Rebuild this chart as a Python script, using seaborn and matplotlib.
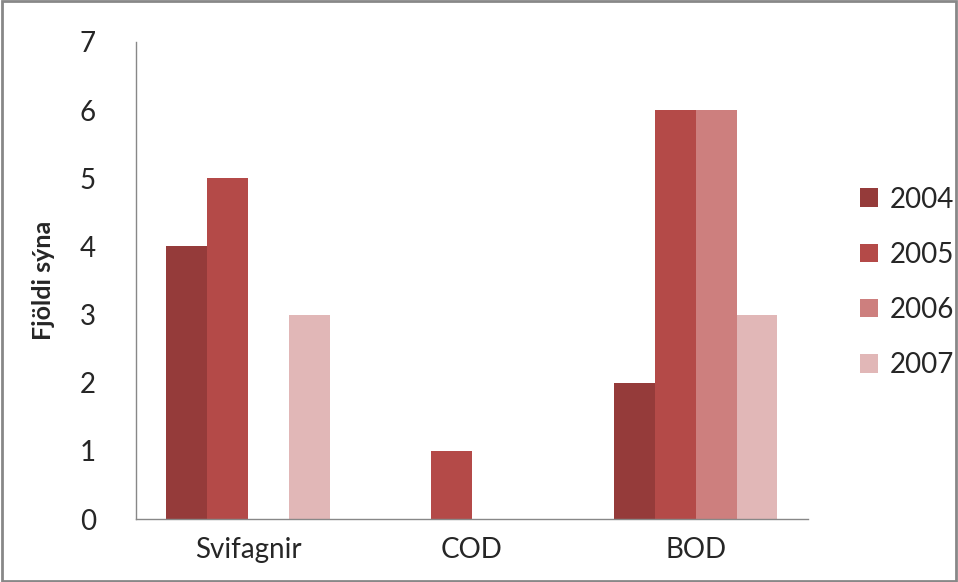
import matplotlib
matplotlib.use("Agg")
import matplotlib.pyplot as plt
import seaborn as sns
import pandas as pd
from matplotlib.patches import Patch, Rectangle

categories = ["Svifagnir", "COD", "BOD"]
years = ["2004", "2005", "2006", "2007"]
v2004 = [4, 0, 2]
v2005 = [5, 1, 6]
v2006 = [0, 0, 6]
v2007 = [3, 0, 3]
colors = ["#953B3A", "#B44A48", "#CD7F7E", "#E1B7B7"]

rows = []
for y, vals in zip(years, [v2004, v2005, v2006, v2007]):
    for c, v in zip(categories, vals):
        rows.append({"cat": c, "year": y, "val": v})
df = pd.DataFrame(rows)

sns.set_style("white")
plt.rcParams['font.family'] = ['Lato', 'DejaVu Sans']

fig = plt.figure(figsize=(9.58, 5.82), dpi=100)
ax = fig.add_axes([0.142, 0.108, 0.701, 0.820])
sns.barplot(data=df, x="cat", y="val", hue="year", palette=colors,
            width=0.73, gap=0, saturation=1, linewidth=0, ax=ax, legend=False)

ax.set_xlim(-0.5, 2.5)
ax.set_ylim(0, 7)
ax.set_yticks(range(0, 8))
ax.set_xticks([-0.5, 0.5, 1.5, 2.5], minor=False)
ax.set_xticklabels([])
ax.set_xticks([0, 1, 2], minor=True)
ax.set_xticklabels(categories, minor=True)
ax.tick_params(axis='x', which='major', direction='out', length=7, color='#888888', width=1)
ax.tick_params(axis='x', which='minor', length=0, labelsize=20, pad=13)
ax.tick_params(axis='y', direction='out', length=7, color='#888888', width=1, labelsize=20, pad=22)
ax.set_xlabel("")
ax.set_ylabel("Fjöldi sýna", fontsize=18, fontweight='bold', labelpad=18)
for s in ['top', 'right']:
    ax.spines[s].set_visible(False)
for s in ['left', 'bottom']:
    ax.spines[s].set_color('#888888')
    ax.spines[s].set_linewidth(1)

handles = [Patch(facecolor=c, edgecolor='none', label=y) for c, y in zip(colors, years)]
fig.legend(handles=handles, loc='center left', bbox_to_anchor=(0.872, 0.515),
           frameon=False, fontsize=20, handlelength=0.65, handleheight=0.65,
           labelspacing=1.05, handletextpad=0.4)

fig.patches.append(Rectangle((0.002, 0.002), 0.996, 0.996, transform=fig.transFigure,
                             fill=False, edgecolor='#888888', linewidth=2))
fig.savefig("out.png", dpi=100)
